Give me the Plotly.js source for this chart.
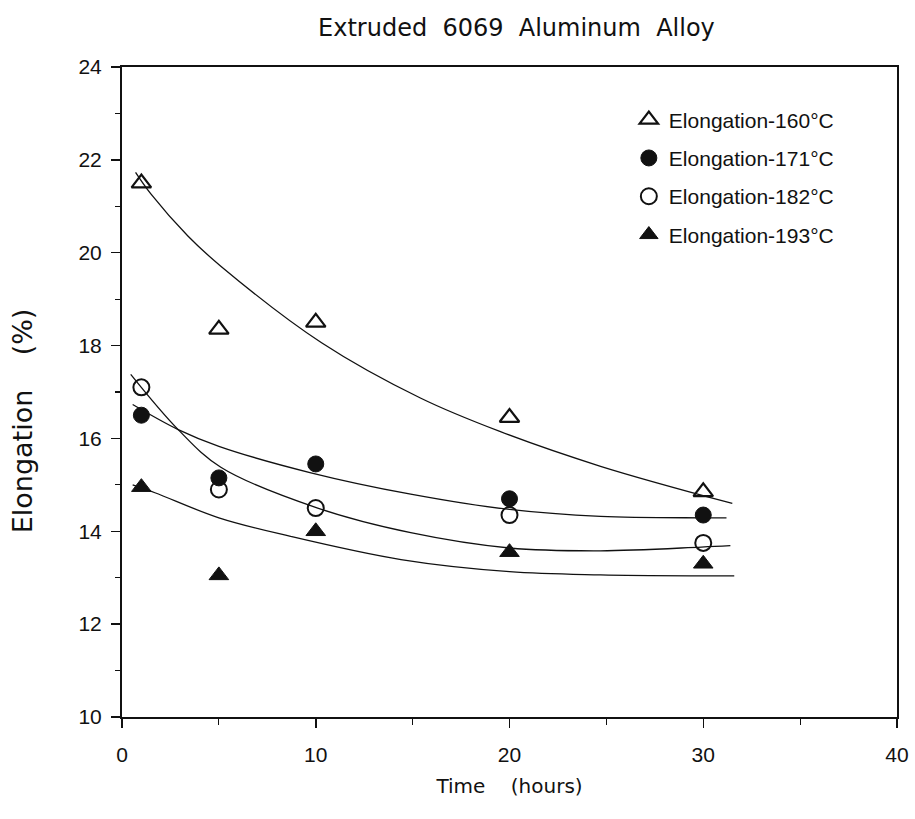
<!DOCTYPE html>
<html>
<head>
<meta charset="utf-8">
<script src="https://cdn.plot.ly/plotly-3.0.1.min.js"></script>
<style>html,body{margin:0;padding:0;background:#fff;}</style>
</head>
<body>
<div id="chart" style="width:915px;height:819px;"></div>
<script>
// Measured data (time in hours, elongation in %)
const time = [1, 5, 10, 20, 30];
const elong160 = [21.5, 18.35, 18.5, 16.45, 14.85];
const elong171 = [16.5, 15.15, 15.45, 14.7, 14.35];
const elong182 = [17.1, 14.9, 14.5, 14.35, 13.75];
const elong193 = [14.95, 13.05, 14.0, 13.55, 13.3];

// Fitted curves
const fit160X = [0.7, 1.5, 3.4, 5.1, 10.3, 15.4, 19.5, 24.7, 31.5];
const fit160Y = [21.73, 21.26, 20.36, 19.71, 18.06, 16.87, 16.15, 15.4, 14.6];
const fit171X = [0.55, 2.9, 5, 9.75, 14.9, 20, 24.7, 29.9, 31.2];
const fit171Y = [16.73, 16.19, 15.83, 15.26, 14.8, 14.47, 14.32, 14.29, 14.29];
const fit182X = [0.45, 2.9, 5.1, 10.1, 14.9, 20, 24.7, 29.9, 31.4];
const fit182Y = [17.38, 16.19, 15.38, 14.5, 13.97, 13.64, 13.58, 13.66, 13.69];
const fit193X = [0.55, 1.7, 5, 8.7, 14.4, 20, 24.7, 29.9, 31.6];
const fit193Y = [15.0, 14.83, 14.29, 13.89, 13.39, 13.13, 13.06, 13.04, 13.04];

const seriesNames = ['Elongation-160°C', 'Elongation-171°C', 'Elongation-182°C', 'Elongation-193°C'];
const xTickVals = [0, 10, 20, 30, 40];
const yTickVals = [10, 12, 14, 16, 18, 20, 22, 24];

const black = '#111';
const fitLine = {color: black, width: 1.3, shape: 'spline', smoothing: 1};

function fitTrace(x, y) {
  return {x: x, y: y, mode: 'lines', line: fitLine, showlegend: false, hoverinfo: 'skip'};
}

const traces = [
  fitTrace(fit160X, fit160Y),
  fitTrace(fit171X, fit171Y),
  fitTrace(fit182X, fit182Y),
  fitTrace(fit193X, fit193Y),
  {x: time, y: elong160, mode: 'markers', name: seriesNames[0], legendgroup: 'g1',
   marker: {symbol: 'triangle-up-open', size: 17, color: black, line: {width: 2.2, color: black}}},
  {x: time, y: elong171, mode: 'markers', name: seriesNames[1], legendgroup: 'g2',
   marker: {symbol: 'circle', size: 16, color: black, line: {width: 1, color: black}}},
  {x: time, y: elong182, mode: 'markers', name: seriesNames[2], legendgroup: 'g3',
   marker: {symbol: 'circle-open', size: 16, color: black, line: {width: 2, color: black}}},
  {x: time, y: elong193, mode: 'markers', name: seriesNames[3], legendgroup: 'g4',
   marker: {symbol: 'triangle-up', size: 17, color: black, line: {width: 1, color: black}}}
];

const tickFont = {family: 'Liberation Sans, Arial, sans-serif', size: 21, color: black};

const layout = {
  width: 915, height: 819,
  paper_bgcolor: '#fff', plot_bgcolor: '#fff',
  margin: {l: 122, r: 18, t: 67, b: 102},
  title: {
    text: 'Extruded  6069  Aluminum  Alloy',
    font: {family: 'DejaVu Sans, sans-serif', size: 24, color: black},
    x: 0.509, xref: 'paper', xanchor: 'center',
    y: 0.966, yref: 'container', yanchor: 'middle'
  },
  xaxis: {
    range: [0, 40], tickvals: xTickVals, ticktext: xTickVals.map(String),
    ticks: 'outside', ticklen: 9, tickwidth: 1.5, tickcolor: black,
    minor: {dtick: 5, tick0: 0, ticks: 'outside', ticklen: 6, tickwidth: 1.2, tickcolor: black, showgrid: false},
    showline: true, linewidth: 2, linecolor: black, mirror: true,
    showgrid: false, zeroline: false,
    tickfont: tickFont, ticklabelstandoff: 9,
    title: {text: 'Time    (hours)', font: {family: 'DejaVu Sans, sans-serif', size: 20, color: black}, standoff: 14},
    automargin: false
  },
  yaxis: {
    range: [10, 24], tickvals: yTickVals, ticktext: yTickVals.map(String),
    ticks: 'outside', ticklen: 9, tickwidth: 1.5, tickcolor: black,
    minor: {dtick: 1, tick0: 10, ticks: 'outside', ticklen: 5, tickwidth: 1.2, tickcolor: black, showgrid: false},
    showline: true, linewidth: 2, linecolor: black, mirror: true,
    showgrid: false, zeroline: false,
    tickfont: tickFont, ticklabelstandoff: 5,
    automargin: false
  },
  legend: {
    x: 0.654, xanchor: 'left', y: 0.95, yanchor: 'top',
    bgcolor: 'rgba(0,0,0,0)', borderwidth: 0,
    font: {family: 'Liberation Sans, Arial, sans-serif', size: 21, color: black},
    traceorder: 'grouped', tracegroupgap: 8
  },
  annotations: [{
    text: 'Elongation    (%)', textangle: -90,
    xref: 'paper', yref: 'paper', x: -0.129, y: 0.455,
    xanchor: 'center', yanchor: 'middle', showarrow: false,
    font: {family: 'DejaVu Sans, sans-serif', size: 27, color: black}
  }],
  showlegend: true
};

Plotly.newPlot('chart', traces, layout, {displayModeBar: false, staticPlot: true});
</script>
</body>
</html>
